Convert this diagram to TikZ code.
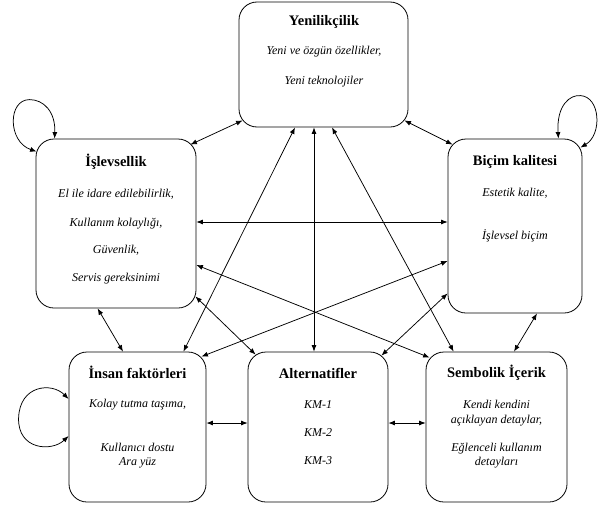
\documentclass[tikz,border=0pt]{standalone}
\usepackage{fontspec}
\setmainfont{Liberation Serif}
\usetikzlibrary{arrows.meta,calc}
\begin{document}
\begin{tikzpicture}[x=1pt,y=-1pt,
  box/.style={draw, line width=0.8pt, rounded corners=18pt, inner sep=0pt},
  ttl/.style={font=\fontsize{14.5}{16}\selectfont\bfseries, anchor=base, inner sep=0pt},
  txt/.style={font=\fontsize{12}{14}\selectfont\itshape, anchor=base, inner sep=0pt},
  link/.style={{Latex[length=6.5pt,width=5pt]}-{Latex[length=6.5pt,width=5pt]}, line width=0.75pt},
]
\useasboundingbox (0,0) rectangle (601,506);

% boxes
\node[box, minimum width=169pt, minimum height=125pt] (yen) at (323.5,64.5) {};
\node[box, minimum width=160pt, minimum height=169pt] (isl) at (116,223.5) {};
\node[box, minimum width=134pt, minimum height=174pt] (bic) at (515,226) {};
\node[box, minimum width=137pt, minimum height=150pt] (ins) at (137.5,427) {};
\node[box, minimum width=140pt, minimum height=150pt] (alt) at (318,427) {};
\node[box, minimum width=141pt, minimum height=150pt] (sem) at (496.5,427) {};

% texts
\node[ttl] (yen-t) at (324,25) {Yenilikçilik};
\node[txt] (yen-1) at (324,54) {Yeni ve özgün özellikler,};
\node[txt] (yen-2) at (324,84) {Yeni teknolojiler};

\node[ttl] (isl-t) at (116,166) {İşlevsellik};
\node[txt] (isl-1) at (116,197) {El ile idare edilebilirlik,};
\node[txt] (isl-2) at (116,226) {Kullanım kolaylığı,};
\node[txt] (isl-3) at (116,253) {Güvenlik,};
\node[txt] (isl-4) at (116,281) {Servis gereksinimi};

\node[ttl] (bic-t) at (515,165) {Biçim kalitesi};
\node[txt] (bic-1) at (515,196) {Estetik kalite,};
\node[txt] (bic-2) at (515,239) {İşlevsel biçim};

\node[ttl] (ins-t) at (137.5,378) {İnsan faktörleri};
\node[txt] (ins-1) at (137.5,407) {Kolay tutma taşıma,};
\node[txt] (ins-2) at (137.5,451) {Kullanıcı dostu};
\node[txt] (ins-3) at (137.5,465) {Ara yüz};

\node[ttl] (alt-t) at (318,378) {Alternatifler};
\node[txt] (alt-1) at (318,408) {KM-1};
\node[txt] (alt-2) at (318,436) {KM-2};
\node[txt] (alt-3) at (318,464) {KM-3};

\node[ttl] (sem-t) at (496.5,377) {Sembolik İçerik};
\node[txt] (sem-1) at (496.5,408) {Kendi kendini};
\node[txt] (sem-2) at (496.5,423) {açıklayan detaylar,};
\node[txt] (sem-3) at (496.5,451) {Eğlenceli kullanım};
\node[txt] (sem-4) at (496.5,465) {detayları};

% connectors
\draw[link] ($(yen.south west)+(4,-7)$) -- ($(isl.north east)+(-6,6)$);
\draw[link] ($(yen.south east)+(-4,-7)$) -- ($(bic.north west)+(5,6)$);
\draw[link] ($(yen.south)+(-28.5,0)$) -- ($(ins.north east)+(-23,0)$);
\draw[link] ($(yen.south)+(-9.5,0)$) -- ($(alt.north)+(-4,0)$);
\draw[link] ($(yen.south)+(8.5,0)$) -- ($(sem.north west)+(28,0)$);
\draw[link] ($(isl.east)+(0,-1.5)$) -- ($(bic.west)+(0,-4)$);
\draw[link] ($(isl.east)+(0,41.5)$) -- ($(sem.north west)+(4,6)$);
\draw[link] ($(isl.south east)+(-1,-12)$) -- ($(alt.north west)+(8,3)$);
\draw[link] ($(bic.west)+(0,35)$) -- ($(ins.north east)+(-5,5)$);
\draw[link] ($(bic.south west)+(0,-20)$) -- ($(alt.north east)+(-7,4)$);
\draw[link] ($(bic.south)+(22,0)$) -- ($(sem.north)+(17.5,0)$);
\draw[link] ($(isl.south west)+(62,0)$) -- ($(ins.north)+(-14.5,0)$);
\draw[link] ($(ins.east)+(0,-4)$) -- ($(alt.west)+(0,-4)$);
\draw[link] ($(alt.east)+(0,-4)$) -- ($(sem.west)+(0,-4)$);

% self loops
\draw[link] ($(isl.north west)+(19,0)$) .. controls +(1,-27) and +(14,0) .. ($(isl.north west)+(-6,-39)$)
  .. controls +(-22,0) and +(-29,-10) .. ($(isl.north west)+(1,13)$);
\draw[link] ($(bic.north east)+(-24,0)$) .. controls +(-2,-34) and +(-10,-1) .. ($(bic.north east)+(-2,-43)$)
  .. controls +(20,1) and +(22,-13) .. ($(bic.north east)+(-2,9)$);
\draw[link] ($(ins.west)+(0,-28)$) .. controls +(-17,-17) and +(1,-33) .. ($(ins.west)+(-50,-9)$)
  .. controls +(-1,32) and +(-17,16) .. ($(ins.west)+(0,9)$);
\end{tikzpicture}
\end{document}
